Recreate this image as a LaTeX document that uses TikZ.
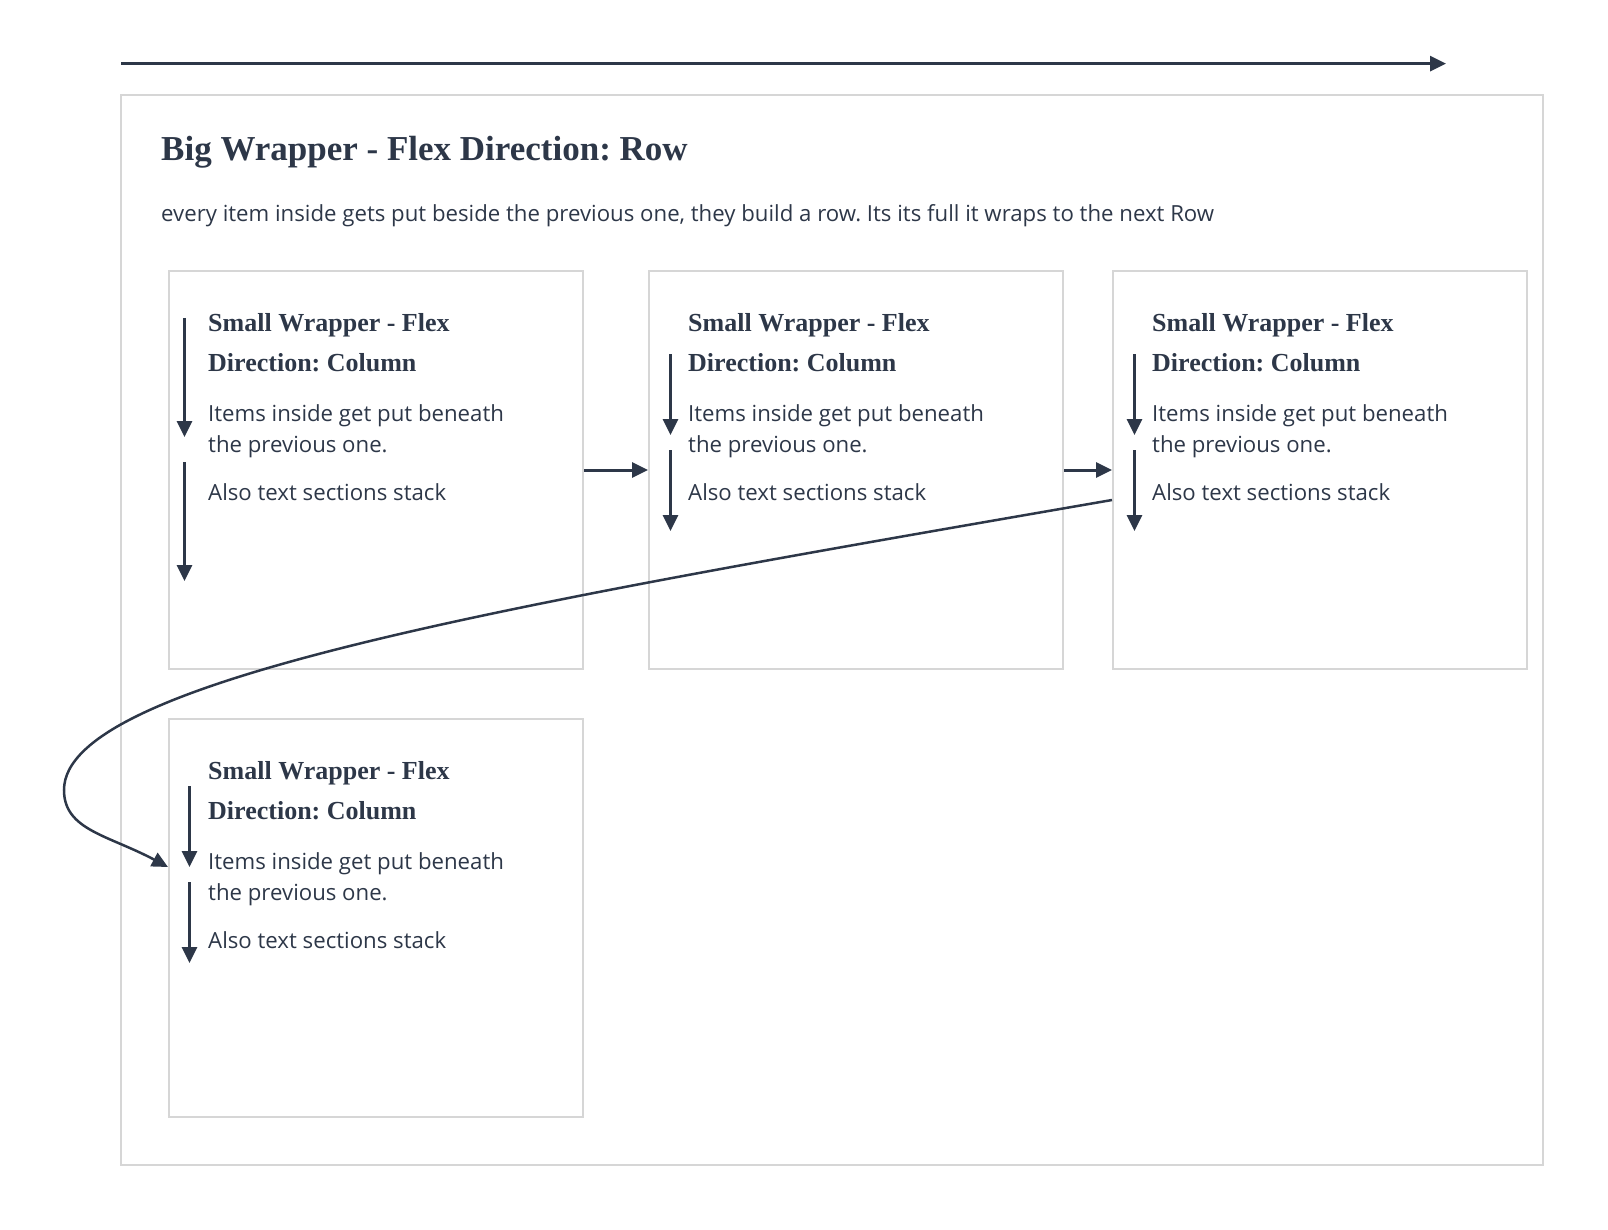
\documentclass[tikz,border=0pt]{standalone}
\usepackage{fontspec}
\setmainfont{Open Sans}
\newfontfamily\headfont{Liberation Serif}
\usetikzlibrary{arrows.meta}
\definecolor{ink}{RGB}{45,55,72}
\definecolor{edge}{RGB}{214,214,214}
\frenchspacing
\begin{document}
\begin{tikzpicture}[x=1pt,y=-1pt,
	flow/.style={-{Triangle[length=16pt,width=15pt]},line width=3pt,draw=ink},
	bigbox/.style={draw=edge,line width=2pt,minimum width=1422pt,minimum height=1070pt,inner sep=0pt},
	smallbox/.style={draw=edge,line width=2pt,minimum width=414pt,minimum height=398pt,inner sep=0pt},
	bigtitle/.style={font=\headfont\bfseries\fontsize{35}{40}\selectfont,text=ink,inner sep=0pt,anchor=base west},
	boxtitle/.style={font=\headfont\bfseries\fontsize{26}{30}\selectfont,text=ink,inner sep=0pt,anchor=base west},
	body/.style={font=\fontsize{22.2}{26}\selectfont,text=ink,inner sep=0pt,anchor=base west}]
	\useasboundingbox (0,0) rectangle (1608,1230);
	% big wrapper
	\coordinate (rowstart) at (121,63.6);
	\coordinate (rowend) at (1446,63.6);
	\draw[flow] (rowstart)--(rowend);
	\node[bigbox] (big) at (832,630) {};
	\node[bigtitle] (bigname) at (161,161) {Big Wrapper - Flex Direction: Row};
	\node[body] (bigtext) at (161,222) {every item inside gets put beside the previous one, they build a row. Its its full it wraps to the next Row};
	% small wrappers
	\node[smallbox] (sw1) at (376,470) {};
	\node[smallbox] (sw2) at (856,470) {};
	\node[smallbox] (sw3) at (1320,470) {};
	\node[smallbox] (sw4) at (376,918) {};
	\foreach \b in {sw1,sw2,sw3,sw4}{
		\node[boxtitle] (\b-t1) at ([shift={(40,61)}]\b.north west) {Small Wrapper - Flex};
		\node[boxtitle] (\b-t2) at ([shift={(40,101)}]\b.north west) {Direction: Column};
		\node[body] (\b-p1) at ([shift={(40,151)}]\b.north west) {Items inside get put beneath};
		\node[body] (\b-p2) at ([shift={(40,182)}]\b.north west) {the previous one.};
		\node[body] (\b-p3) at ([shift={(40,230)}]\b.north west) {Also text sections stack};
	}
	% column arrows
	\draw[flow] ([shift={(16.5,48)}]sw1.north west)--++(0,119);
	\draw[flow] ([shift={(16.5,192)}]sw1.north west)--++(0,119);
	\foreach \b in {sw2,sw3}{
		\draw[flow] ([shift={(22.5,84)}]\b.north west)--++(0,81);
		\draw[flow] ([shift={(22.5,180)}]\b.north west)--++(0,81);
	}
	\draw[flow] ([shift={(21.5,68)}]sw4.north west)--++(0,81);
	\draw[flow] ([shift={(21.5,164)}]sw4.north west)--++(0,81);
	% row arrows
	\draw[flow] (sw1.east)--(sw2.west);
	\draw[flow] (sw2.east)--(sw3.west);
	\coordinate (wrapturn) at (64,790);
	\draw[flow,line width=2.5pt] ([yshift=-30pt]sw3.west) .. controls +(-600,104) and +(0,-110) .. (wrapturn)
		.. controls +(0,40) and +(-60,-32) .. ([yshift=51pt]sw4.west);
\end{tikzpicture}
\end{document}
